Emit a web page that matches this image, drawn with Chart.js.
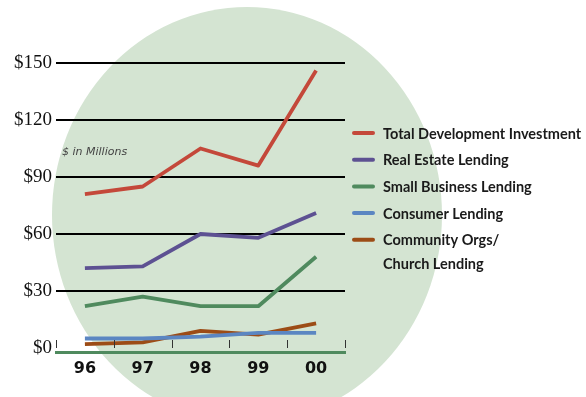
<!DOCTYPE html>
<html>
<head>
<meta charset="utf-8">
<script src="https://cdn.jsdelivr.net/npm/chart.js@4"></script>
<style>
  html, body { margin: 0; padding: 0; background: #ffffff; }
  #wrap { width: 586px; height: 397px; position: relative; }
</style>
</head>
<body>
<div id="wrap"><canvas id="c" width="586" height="397"></canvas></div>
<script>
// Years on the x axis
const years = ['96', '97', '98', '99', '00'];

// Amounts in millions of dollars
const totalDevelopment = [81, 85, 105, 96, 146];
const realEstate = [42, 43, 60, 58, 71];
const smallBusiness = [22, 27, 22, 22, 48];
const consumer = [5, 5, 6, 8, 8];
const communityChurch = [2, 3, 9, 7, 13];

// Value axis ticks
const yTicks = [0, 30, 60, 90, 120, 150];

const seriesLabels = [
  'Total Development Investment',
  'Real Estate Lending',
  'Small Business Lending',
  'Consumer Lending',
  'Community Orgs/\nChurch Lending'
];
const seriesColors = ['#c4483a', '#5d5192', '#4f8a5e', '#5b86c2', '#9c4c16'];
const seriesData = [totalDevelopment, realEstate, smallBusiness, consumer, communityChurch];

// Pale green oval behind the plot
const backdrop = {
  id: 'backdrop',
  beforeDraw(chart) {
    const ctx = chart.ctx;
    ctx.save();
    ctx.fillStyle = '#d4e4d2';
    ctx.beginPath();
    ctx.ellipse(247, 215, 195, 208, 0, 0, Math.PI * 2);
    ctx.fill();
    ctx.restore();
  }
};

// Short separators between the year columns, standing on the zero line
const yearSeparators = {
  id: 'yearSeparators',
  afterDatasetsDraw(chart) {
    const x = chart.scales.x, y = chart.scales.y;
    const ctx = chart.ctx;
    const zero = y.getPixelForValue(0);
    const step = x.getPixelForValue(1) - x.getPixelForValue(0);
    ctx.save();
    ctx.strokeStyle = '#333';
    ctx.lineWidth = 1;
    for (let i = 0; i <= years.length; i++) {
      const px = Math.round(x.getPixelForValue(0) - step / 2 + i * step) + 0.5;
      ctx.beginPath();
      ctx.moveTo(px, zero - 8);
      ctx.lineTo(px, zero);
      ctx.stroke();
    }
    ctx.restore();
  }
};

// Legend to the right of the plot and the unit note
const sideLegend = {
  id: 'sideLegend',
  afterDraw(chart) {
    const ctx = chart.ctx;
    ctx.save();
    ctx.font = 'bold 14.5px Lato';
    ctx.textBaseline = 'middle';
    let rowY = 133;
    chart.data.datasets.forEach(ds => {
      ctx.strokeStyle = ds.borderColor;
      ctx.lineWidth = 4;
      ctx.lineCap = 'round';
      ctx.beginPath();
      ctx.moveTo(354, rowY);
      ctx.lineTo(373, rowY);
      ctx.stroke();
      ctx.fillStyle = '#1a1a1a';
      const lines = ds.label.split('\n');
      lines.forEach((t, k) => ctx.fillText(t, 383, rowY + 1 + k * 24));
      rowY += 26.7;
    });
    ctx.font = 'italic 11px "DejaVu Sans"';
    ctx.fillStyle = '#444';
    ctx.textBaseline = 'middle';
    ctx.fillText('$ in Millions', 62, 152);
    ctx.restore();
  }
};

new Chart(document.getElementById('c'), {
  type: 'line',
  data: {
    labels: years,
    datasets: seriesData.map((d, i) => ({
      label: seriesLabels[i],
      data: d,
      borderColor: seriesColors[i],
      backgroundColor: seriesColors[i],
      borderWidth: 3.8,
      pointRadius: 0,
      tension: 0,
      borderJoinStyle: 'round',
      borderCapStyle: 'butt'
    }))
  },
  options: {
    responsive: false,
    animation: false,
    devicePixelRatio: 1,
    layout: { padding: { top: 63, right: 241, bottom: 0, left: 0 } },
    plugins: { legend: { display: false }, tooltip: { enabled: false } },
    scales: {
      x: {
        offset: true,
        grid: { display: false, drawTicks: false },
        border: { display: true, color: '#4f8a5e', width: 3 },
        ticks: {
          color: '#111',
          font: { family: '"DejaVu Sans"', weight: 'bold', size: 16 },
          padding: 7
        },
        afterFit(scale) { scale.height = 45; }
      },
      y: {
        min: -2.1,
        max: 150,
        afterBuildTicks(scale) { scale.ticks = yTicks.map(v => ({ value: v })); },
        grid: {
          drawTicks: false,
          lineWidth: 2,
          color: ctx => (ctx.tick && ctx.tick.value === 0) ? 'rgba(0,0,0,0)' : '#000'
        },
        border: { display: false },
        ticks: {
          color: '#111',
          padding: 4,
          font: { family: '"Liberation Serif"', size: 19 },
          callback: v => '$' + v
        },
        afterFit(scale) { scale.width = 56; }
      }
    }
  },
  plugins: [backdrop, yearSeparators, sideLegend]
});
</script>
</body>
</html>
